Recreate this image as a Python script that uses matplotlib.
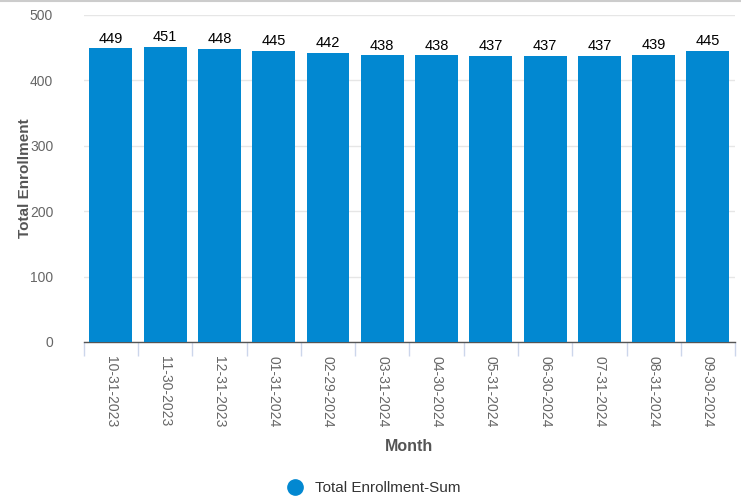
import matplotlib.pyplot as plt
from matplotlib.lines import Line2D

months = ['10-31-2023', '11-30-2023', '12-31-2023', '01-31-2024', '02-29-2024', '03-31-2024',
          '04-30-2024', '05-31-2024', '06-30-2024', '07-31-2024', '08-31-2024', '09-30-2024']
enrollment = [449, 451, 448, 445, 442, 438, 438, 437, 437, 437, 439, 445]

plt.rcParams['font.family'] = ['Liberation Sans', 'DejaVu Sans']
bar_color = '#0288d1'

fig = plt.figure(figsize=(7.41, 4.97), dpi=100)
ax = fig.add_axes([0.113, 0.312, 0.879, 0.658])

x = range(len(months))
ax.bar(x, enrollment, width=0.79, color=bar_color, zorder=3)
for i, v in zip(x, enrollment):
    ax.text(i, v + 4, str(v), ha='center', va='bottom', fontsize=10.5, color='#000000', zorder=4)

ax.set_xlim(-0.5, len(months) - 0.5)
ax.set_ylim(0, 500)
ax.set_yticks(range(0, 501, 100))
ax.tick_params(axis='y', length=0, labelsize=10, labelcolor='#666666', pad=22)
ax.yaxis.grid(True, color='#e6e6e6', linewidth=1, zorder=0)

ax.set_xticks(x)
ax.set_xticklabels(months, rotation=270, fontsize=10, color='#666666')
ax.set_xticks([i - 0.5 for i in range(len(months) + 1)], minor=True)
ax.tick_params(axis='x', which='major', length=0, pad=10)
ax.tick_params(axis='x', which='minor', length=10, color='#ccd6eb', width=1)

for side in ['top', 'right', 'left']:
    ax.spines[side].set_visible(False)
ax.spines['bottom'].set_color('#555555')
ax.spines['bottom'].set_linewidth(1)

ax.set_ylabel('Total Enrollment', fontsize=11, fontweight='bold', color='#555555')
ax.yaxis.set_label_coords(-0.08, 0.5)
ax.set_xlabel('Month', fontsize=11.5, fontweight='bold', color='#555555', labelpad=8)

handle = Line2D([], [], marker='o', linestyle='none', markersize=11, color=bar_color)
fig.legend([handle], ['Total Enrollment-Sum'], loc='center', bbox_to_anchor=(0.5, 0.018),
           frameon=False, fontsize=11, handletextpad=0.3, labelcolor='#333333')

fig.add_artist(Line2D([0, 1], [0.998, 0.998], color='#cccccc', linewidth=1.5))

fig.savefig('out.png', dpi=100)
